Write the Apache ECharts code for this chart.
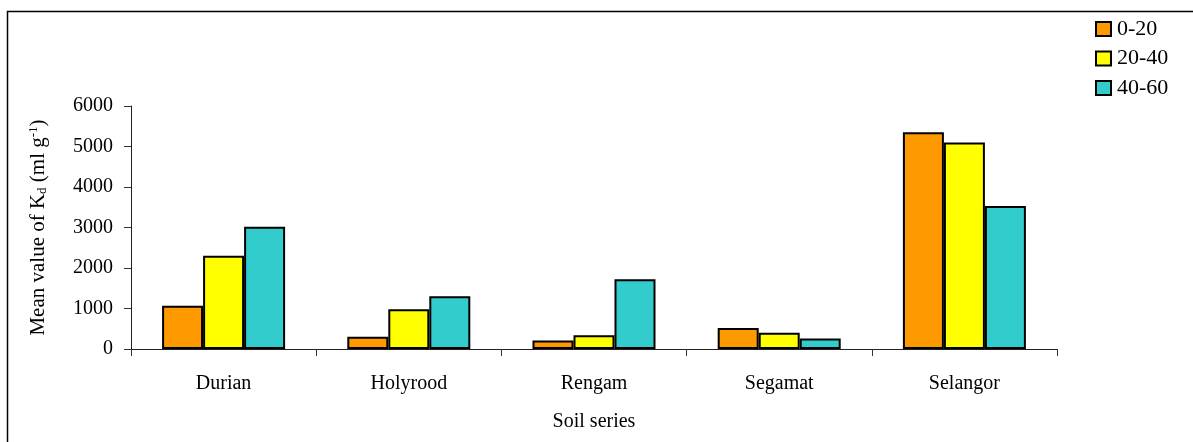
<!DOCTYPE html>
<html><head><meta charset="utf-8">
<style>html,body{margin:0;padding:0;background:#fff}#c{width:1193px;height:442px}</style>
<script src="https://cdn.jsdelivr.net/npm/echarts@6/dist/echarts.min.js"></script>
</head><body><div id="c"></div>
<script>
const categories = ['Durian', 'Holyrood', 'Rengam', 'Segamat', 'Selangor'];
const seriesNames = ['0-20', '20-40', '40-60'];
const depth0_20 = [1070, 300, 210, 520, 5350];
const depth20_40 = [2300, 980, 340, 400, 5100];
const depth40_60 = [3020, 1300, 1720, 260, 3530];
const yTicks = { min: 0, max: 6000, interval: 1000 };
const colors = ['#FF9900', '#FFFF00', '#33CCCC'];
const values = [depth0_20, depth20_40, depth40_60];

const font = 'Liberation Serif';
const chart = echarts.init(document.getElementById('c'));
chart.setOption({
  animation: false,
  textStyle: { fontFamily: font, color: '#000' },
  graphic: [{ type: 'rect', shape: { x: 7.5, y: 11.5, width: 1300, height: 500 }, style: { fill: 'none', stroke: '#000', lineWidth: 1.5 }, silent: true }],
  grid: { left: 131, right: 136, top: 106, bottom: 93 },
  legend: {
    orient: 'vertical', left: 1095, top: 18, padding: 0, itemWidth: 15, itemHeight: 14, itemGap: 7.5,
    textStyle: { fontFamily: font, fontSize: 22, color: '#000', padding: [0, 0, 0, 1] },
    data: seriesNames.map(n => ({ name: n, icon: 'rect', itemStyle: { borderColor: '#000', borderWidth: 2 } }))
  },
  xAxis: {
    type: 'category', data: categories,
    axisLine: { show: true, lineStyle: { color: '#222', width: 1 } },
    axisTick: { show: true, alignWithLabel: false, length: 7, lineStyle: { color: '#333' } },
    axisLabel: { fontFamily: font, fontSize: 20, color: '#000', margin: 25 },
    name: 'Soil series', nameLocation: 'middle', nameGap: 63,
    nameTextStyle: { fontFamily: font, fontSize: 20, color: '#000' }
  },
  yAxis: {
    type: 'value', min: yTicks.min, max: yTicks.max, interval: yTicks.interval,
    splitLine: { show: false },
    axisLine: { show: true, lineStyle: { color: '#222', width: 1 } },
    axisTick: { show: true, length: 7, lineStyle: { color: '#333' } },
    axisLabel: { fontFamily: font, fontSize: 20, color: '#000', margin: 18, formatter: v => String(v) },
    name: 'Mean value of K{sub|d} (ml g{sup|-1})', nameLocation: 'middle', nameGap: 82,
    nameTextStyle: {
      fontFamily: font, fontSize: 21, color: '#000',
      rich: {
        sub: { fontFamily: font, fontSize: 13, color: '#000', verticalAlign: 'bottom', padding: [7, 0, 0, 0] },
        sup: { fontFamily: font, fontSize: 13, color: '#000', verticalAlign: 'top', padding: [0, 0, 9, 0] }
      }
    }
  },
  series: seriesNames.map((n, i) => ({
    name: n, type: 'bar', data: values[i], barWidth: 41, barGap: '0%',
    itemStyle: { color: colors[i], borderColor: '#000', borderWidth: 2 }
  }))
});
</script></body></html>
